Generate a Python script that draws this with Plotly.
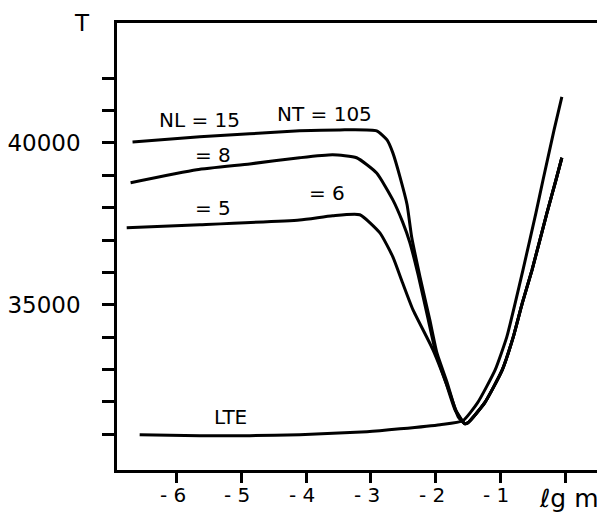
import plotly.graph_objects as go

# ---- data (lg m vs T) ----
lgm_nl15 = [-6.68, -5.64, -4.87, -4.10, -3.48, -2.91, -2.75, -2.66, -2.55, -2.44, -2.37,
            -2.24, -2.09, -1.98, -1.82, -1.69]
T_nl15 = [40030, 40185, 40280, 40370, 40400, 40370, 40090, 39690, 38950, 38090, 37100,
          35860, 34540, 33520, 32590, 31760]

lgm_nl8 = [-6.71, -5.69, -4.87, -4.10, -3.59, -3.22, -2.91, -2.66, -2.51, -2.40, -2.27,
           -2.12, -2.00, -1.84, -1.70]
T_nl8 = [38770, 39170, 39350, 39540, 39630, 39540, 39070, 38240, 37560, 36940, 35930,
         34600, 33550, 32590, 31760]

lgm_nl5 = [-6.77, -5.64, -4.10, -3.59, -3.17, -2.86, -2.66, -2.51, -2.35, -2.04, -1.78, -1.65]
T_nl5 = [37380, 37470, 37620, 37750, 37780, 37220, 36480, 35680, 34850, 33610, 32280, 31540]

# deep layers shared by the NLTE models
lgm_deep = [-1.55, -1.50, -1.24, -0.97, -0.80, -0.66, -0.51, -0.28, -0.14, -0.05]
T_deep = [31330, 31360, 31980, 32990, 34010, 35060, 36080, 37840, 38860, 39540]

lgm_lte = [-6.57, -5.64, -4.87, -4.10, -3.06, -2.55, -1.93, -1.58, -1.35, -1.08, -0.90,
           -0.77, -0.65, -0.45, -0.34, -0.17, -0.05]
T_lte = [30990, 30960, 30960, 30990, 31080, 31170, 31300, 31420, 31980, 32990, 34010,
         35060, 36080, 37840, 38860, 40400, 41420]

x_ticks = [-6, -5, -4, -3, -2, -1, 0]
x_ticktext = ["- 6", "- 5", "- 4", "- 3", "- 2", "- 1", ""]
y_ticks = [31000, 32000, 33000, 34000, 35000, 36000, 37000, 38000, 39000, 40000, 41000, 42000]
y_ticktext = ["", "", "", "", "35000", "", "", "", "", "40000", "", ""]

curve_labels = ["NL = 15", "NT = 105", "= 8", "= 5", "= 6", "LTE"]
label_x = [-5.64, -3.72, -5.44, -5.44, -3.68, -5.16]
label_T = [40710, 40880, 39630, 37990, 38460, 31540]

fig = go.Figure()
line = dict(color="black", width=3, shape="spline", smoothing=0.5)
for xs, ys in [(lgm_nl15 + lgm_deep, T_nl15 + T_deep),
               (lgm_nl8 + lgm_deep, T_nl8 + T_deep),
               (lgm_nl5 + lgm_deep, T_nl5 + T_deep),
               (lgm_lte, T_lte)]:
    fig.add_trace(go.Scatter(x=xs, y=ys, mode="lines", line=line, showlegend=False,
                             hoverinfo="skip"))

for txt, lx, ly in zip(curve_labels, label_x, label_T):
    fig.add_annotation(x=lx, y=ly, text=txt, showarrow=False, xanchor="center",
                       font=dict(family="DejaVu Sans", size=20, color="black"))

# x tick labels (drawn as text under the ticks)
for v, txt in zip(x_ticks, x_ticktext):
    if txt:
        fig.add_annotation(x=v, xref="x", yref="paper", y=-0.056, text=txt, showarrow=False,
                           xshift=-4, xanchor="center", yanchor="middle",
                           font=dict(family="DejaVu Sans", size=20, color="black"))

fig.add_annotation(xref="paper", yref="paper", x=-0.072, y=1.033, text="T", showarrow=False,
                   xanchor="center", yanchor="top",
                   font=dict(family="DejaVu Sans", size=23, color="black"))
fig.add_annotation(xref="paper", yref="paper", x=0.932, y=-0.064, text="ℓg m",
                   showarrow=False, xanchor="center", yanchor="middle",
                   font=dict(family="DejaVu Sans", size=25, color="black"))

fig.update_layout(
    width=605, height=517,
    margin=dict(l=109, r=11, t=15, b=55),
    paper_bgcolor="white", plot_bgcolor="white",
    font=dict(family="DejaVu Sans", color="black"),
    xaxis=dict(range=[-6.92, 0.57], tickvals=x_ticks, showticklabels=False,
               ticks="outside", ticklen=10, tickwidth=2.5, tickcolor="black",
               showline=True, linewidth=2.5, linecolor="black", mirror=True,
               showgrid=False, zeroline=False, automargin=False),
    yaxis=dict(range=[29900, 43700], tickvals=y_ticks, ticktext=y_ticktext,
               ticks="outside", ticklen=12, tickwidth=2.5, tickcolor="black",
               showline=True, linewidth=2.5, linecolor="black", mirror=True,
               showgrid=False, zeroline=False, ticklabelstandoff=17, automargin=False,
               tickfont=dict(size=23, family="DejaVu Sans")),
)

fig.write_html("out.html")
